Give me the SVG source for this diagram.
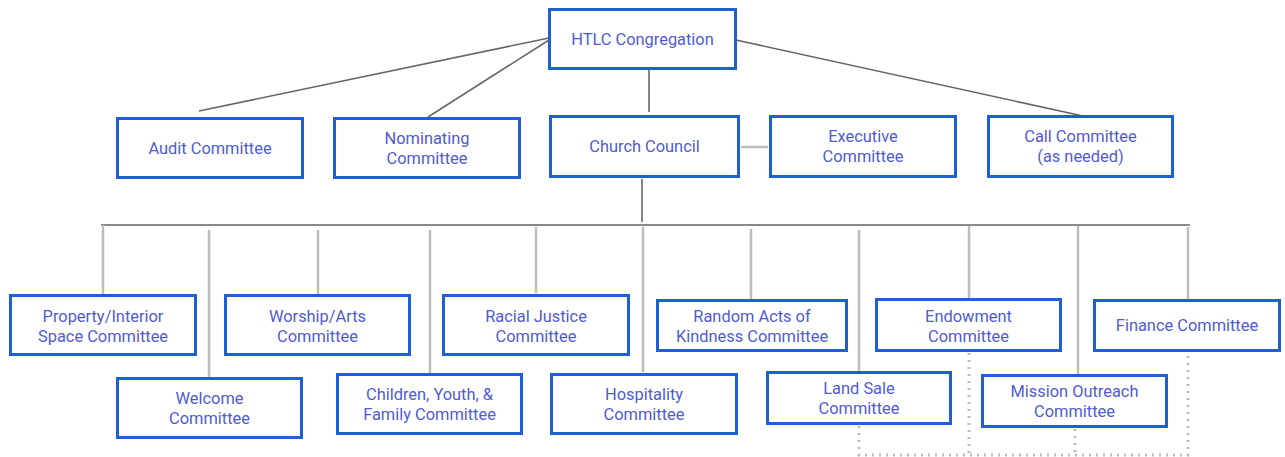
<svg xmlns="http://www.w3.org/2000/svg" width="1285" height="457" viewBox="0 0 1285 457">
<style>
.box{fill:#fff;stroke:#1f5fd6;stroke-width:3}
.t{font-family:Roboto,"Liberation Sans",sans-serif;font-size:16.4px;fill:#4f5bd5;text-anchor:middle}
.dk{stroke:#666;stroke-width:1.6;fill:none}
.lt{stroke:#bdbdbd;stroke-width:2.5;fill:none}
.bus{stroke:#8a8a8a;stroke-width:2.2;fill:none}
.dot{stroke:#bdbdbd;stroke-width:3;stroke-dasharray:2 5;fill:none}
</style>
<rect width="1285" height="457" fill="#fff"/>
<g id="connectors">
<line class="dk" x1="549" y1="38" x2="199" y2="111"/>
<line class="dk" x1="549" y1="40" x2="428" y2="117"/>
<line class="dk" x1="649" y1="70" x2="649" y2="112"/>
<line class="dk" x1="736" y1="40" x2="1083" y2="116"/>
<line class="lt" x1="741" y1="147" x2="768" y2="147"/>
<line class="dk" x1="642" y1="179" x2="642" y2="222"/>
<line class="bus" x1="101" y1="225" x2="1190" y2="225"/>
<line class="lt" x1="103" y1="225" x2="103" y2="294"/>
<line class="lt" x1="209" y1="230" x2="209" y2="377"/>
<line class="lt" x1="318" y1="230" x2="318" y2="294"/>
<line class="lt" x1="430" y1="230" x2="430" y2="373"/>
<line class="lt" x1="536" y1="227" x2="536" y2="293"/>
<line class="lt" x1="643" y1="227" x2="643" y2="372"/>
<line class="lt" x1="751" y1="229" x2="751" y2="299"/>
<line class="lt" x1="859" y1="230" x2="859" y2="371"/>
<line class="lt" x1="969" y1="226" x2="969" y2="298"/>
<line class="lt" x1="1078" y1="226" x2="1078" y2="374"/>
<line class="lt" x1="1188" y1="227" x2="1188" y2="299"/>
<polyline class="dot" points="859,426 859,455 1188,455 1188,353"/>
<line class="dot" x1="969" y1="353" x2="969" y2="455"/>
<line class="dot" x1="1075" y1="429" x2="1075" y2="455"/>
</g>
<g id="htlc"><rect class="box" x="549.5" y="9.5" width="186" height="59"/><text class="t" x="642.5" y="44.5">HTLC Congregation</text></g>
<g id="audit"><rect class="box" x="117.5" y="118.5" width="185" height="59"/><text class="t" x="210" y="154">Audit Committee</text></g>
<g id="nominating"><rect class="box" x="334.5" y="118.5" width="185" height="59"/><text class="t" x="427" y="144">Nominating</text><text class="t" x="427" y="164">Committee</text></g>
<g id="council"><rect class="box" x="550.5" y="116.5" width="188" height="60"/><text class="t" x="644.5" y="152">Church Council</text></g>
<g id="executive"><rect class="box" x="770.5" y="116.5" width="185" height="60"/><text class="t" x="863" y="142">Executive</text><text class="t" x="863" y="162">Committee</text></g>
<g id="call"><rect class="box" x="988.5" y="116.5" width="184" height="60"/><text class="t" x="1080.5" y="142">Call Committee</text><text class="t" x="1080.5" y="162">(as needed)</text></g>
<g id="property"><rect class="box" x="10.5" y="295.5" width="185" height="59"/><text class="t" x="103" y="322">Property/Interior</text><text class="t" x="103" y="342">Space Committee</text></g>
<g id="worship"><rect class="box" x="225.5" y="295.5" width="184" height="59"/><text class="t" x="317.5" y="322">Worship/Arts</text><text class="t" x="317.5" y="342">Committee</text></g>
<g id="racial"><rect class="box" x="443.5" y="295.5" width="185" height="59"/><text class="t" x="536" y="322">Racial Justice</text><text class="t" x="536" y="342">Committee</text></g>
<g id="random"><rect class="box" x="657.5" y="300.5" width="189" height="50"/><text class="t" x="752" y="322">Random Acts of</text><text class="t" x="752" y="342">Kindness Committee</text></g>
<g id="endowment"><rect class="box" x="876.5" y="299.5" width="184" height="51"/><text class="t" x="968.5" y="322">Endowment</text><text class="t" x="968.5" y="342">Committee</text></g>
<g id="finance"><rect class="box" x="1094.5" y="300.5" width="185" height="50"/><text class="t" x="1187" y="331">Finance Committee</text></g>
<g id="welcome"><rect class="box" x="117.5" y="378.5" width="184" height="59"/><text class="t" x="209.5" y="404">Welcome</text><text class="t" x="209.5" y="424">Committee</text></g>
<g id="children"><rect class="box" x="337.5" y="374.5" width="184" height="59"/><text class="t" x="429.5" y="400">Children, Youth, &amp;</text><text class="t" x="429.5" y="420">Family Committee</text></g>
<g id="hospitality"><rect class="box" x="551.5" y="374.5" width="185" height="59"/><text class="t" x="644" y="400">Hospitality</text><text class="t" x="644" y="420">Committee</text></g>
<g id="landsale"><rect class="box" x="767.5" y="372.5" width="183" height="51"/><text class="t" x="859" y="394">Land Sale</text><text class="t" x="859" y="414">Committee</text></g>
<g id="mission"><rect class="box" x="982.5" y="375.5" width="184" height="51"/><text class="t" x="1074.5" y="397">Mission Outreach</text><text class="t" x="1074.5" y="417">Committee</text></g>
</svg>
